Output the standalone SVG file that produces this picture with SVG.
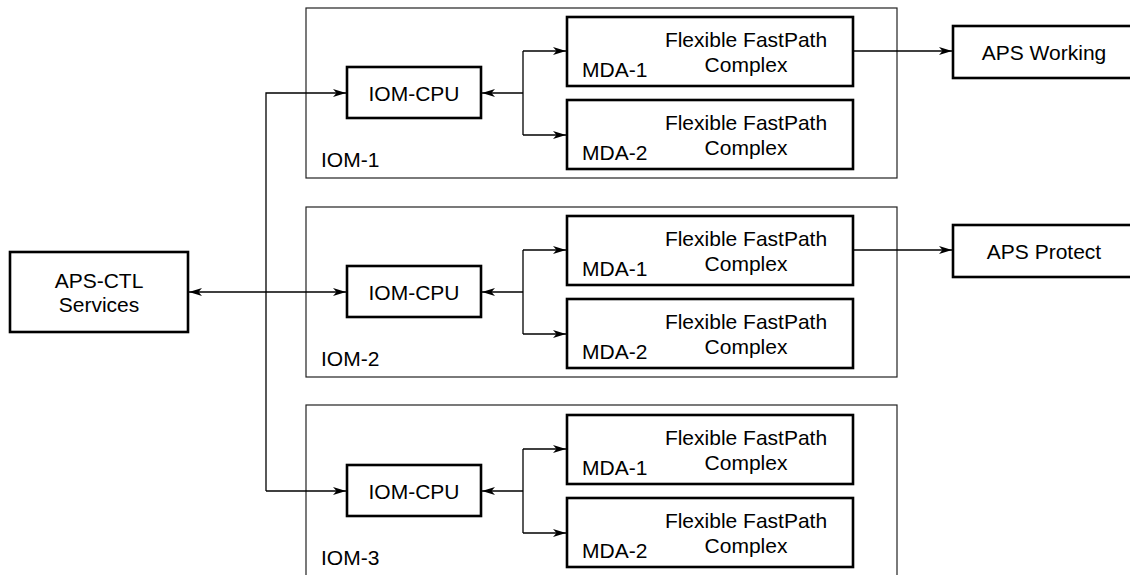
<svg xmlns="http://www.w3.org/2000/svg" width="1130" height="575" viewBox="0 0 1130 575">
<defs>
<style>
.iom{fill:none;stroke:#222;stroke-width:1.2}
.box{fill:#fff;stroke:#000;stroke-width:2.6}
.t{font-family:"Liberation Sans",Arial,sans-serif;font-size:21px;fill:#000}
.c{text-anchor:middle}
.ln{fill:none;stroke:#000;stroke-width:1.3}
</style>
<marker id="ah" viewBox="0 0 13 8" refX="13" refY="4" markerWidth="13" markerHeight="8" markerUnits="userSpaceOnUse" orient="auto-start-reverse">
<path d="M0,0 L13,4 L0,8 L3.5,4 z" fill="#000"/>
</marker>
</defs>
<rect width="1130" height="575" fill="#fff"/>

<g id="iom1">
<rect class="iom" x="306" y="8" width="591" height="170"/>
<text class="t" x="321" y="167">IOM-1</text>
</g>
<g id="iom2">
<rect class="iom" x="306" y="207" width="591" height="170"/>
<text class="t" x="321" y="366">IOM-2</text>
</g>
<g id="iom3">
<rect class="iom" x="306" y="405" width="591" height="175"/>
<text class="t" x="321" y="565">IOM-3</text>
</g>

<g id="cpu1"><rect class="box" x="347" y="67" width="134" height="51"/><text class="t c" x="414" y="101">IOM-CPU</text></g>
<g id="cpu2"><rect class="box" x="347" y="266" width="134" height="51"/><text class="t c" x="414" y="300">IOM-CPU</text></g>
<g id="cpu3"><rect class="box" x="347" y="465" width="134" height="51"/><text class="t c" x="414" y="499">IOM-CPU</text></g>

<g id="iom1-mda1"><rect class="box" x="567" y="17" width="286" height="69"/><text class="t c" x="746" y="46.5">Flexible FastPath</text><text class="t c" x="746" y="71.5">Complex</text><text class="t" x="582" y="77">MDA-1</text></g>
<g id="iom1-mda2"><rect class="box" x="567" y="100" width="286" height="69"/><text class="t c" x="746" y="129.5">Flexible FastPath</text><text class="t c" x="746" y="154.5">Complex</text><text class="t" x="582" y="160">MDA-2</text></g>
<g id="iom2-mda1"><rect class="box" x="567" y="216" width="286" height="69"/><text class="t c" x="746" y="245.5">Flexible FastPath</text><text class="t c" x="746" y="270.5">Complex</text><text class="t" x="582" y="276">MDA-1</text></g>
<g id="iom2-mda2"><rect class="box" x="567" y="299" width="286" height="69"/><text class="t c" x="746" y="328.5">Flexible FastPath</text><text class="t c" x="746" y="353.5">Complex</text><text class="t" x="582" y="359">MDA-2</text></g>
<g id="iom3-mda1"><rect class="box" x="567" y="415" width="286" height="69"/><text class="t c" x="746" y="444.5">Flexible FastPath</text><text class="t c" x="746" y="469.5">Complex</text><text class="t" x="582" y="475">MDA-1</text></g>
<g id="iom3-mda2"><rect class="box" x="567" y="498" width="286" height="69"/><text class="t c" x="746" y="527.5">Flexible FastPath</text><text class="t c" x="746" y="552.5">Complex</text><text class="t" x="582" y="558">MDA-2</text></g>

<g id="aps-ctl"><rect class="box" x="10" y="252" width="178" height="80"/><text class="t c" x="99" y="287.5">APS-CTL</text><text class="t c" x="99" y="312">Services</text></g>
<g id="aps-working"><rect class="box" x="953" y="26" width="190" height="52"/><text class="t c" x="1044" y="60">APS Working</text></g>
<g id="aps-protect"><rect class="box" x="953" y="225" width="190" height="52"/><text class="t c" x="1044" y="259">APS Protect</text></g>

<g id="connectors">
<path class="ln" d="M266,491 V93 H346" marker-end="url(#ah)"/>
<path class="ln" d="M266,491 H346" marker-end="url(#ah)"/>
<path class="ln" d="M189,292 H346" marker-start="url(#ah)" marker-end="url(#ah)"/>

<path class="ln" d="M523,93 H482" marker-end="url(#ah)"/>
<path class="ln" d="M523,51 V135"/>
<path class="ln" d="M523,51 H566" marker-end="url(#ah)"/>
<path class="ln" d="M523,135 H566" marker-end="url(#ah)"/>

<path class="ln" d="M523,292 H482" marker-end="url(#ah)"/>
<path class="ln" d="M523,250 V334"/>
<path class="ln" d="M523,250 H566" marker-end="url(#ah)"/>
<path class="ln" d="M523,334 H566" marker-end="url(#ah)"/>

<path class="ln" d="M523,491 H482" marker-end="url(#ah)"/>
<path class="ln" d="M523,449 V533"/>
<path class="ln" d="M523,449 H566" marker-end="url(#ah)"/>
<path class="ln" d="M523,533 H566" marker-end="url(#ah)"/>

<path class="ln" d="M854,51 H952" marker-end="url(#ah)"/>
<path class="ln" d="M854,250 H952" marker-end="url(#ah)"/>
</g>
</svg>
